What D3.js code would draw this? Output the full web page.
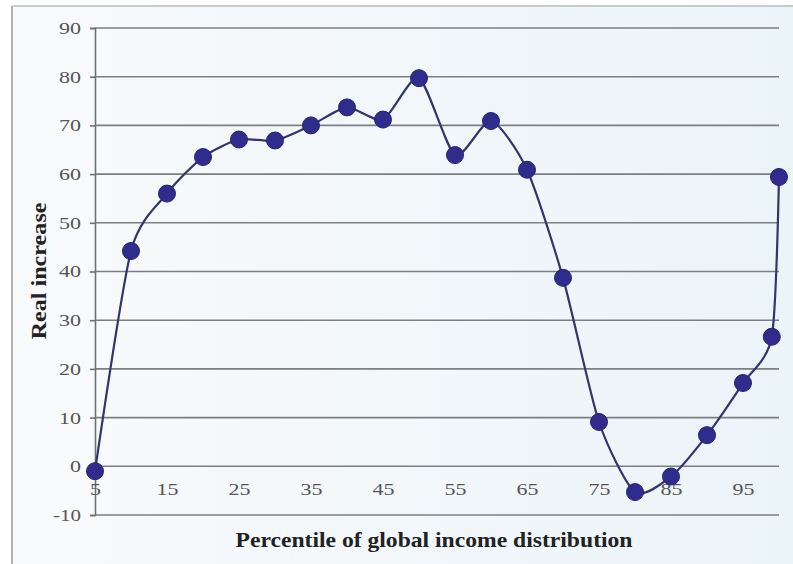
<!DOCTYPE html>
<html>
<head>
<meta charset="utf-8">
<script src="https://cdn.jsdelivr.net/npm/d3@7"></script>
<style>
  body { margin: 0; background: #fff; }
  svg { display: block; }
</style>
</head>
<body>
<div id="chart"></div>
<script>
// Percentiles of the global income distribution and the real increase at each
var percentiles = [5, 10, 15, 20, 25, 30, 35, 40, 45, 50, 55, 60, 65, 70, 75, 80, 85, 90, 95, 99, 100];
var increase = [-1, 44.2, 56, 63.5, 67.1, 66.9, 70, 73.7, 71.2, 79.7, 63.9, 70.9, 60.9, 38.7, 9.1, -5.3, -2.1, 6.4, 17.1, 26.6, 59.4];
var xTicks = [5, 15, 25, 35, 45, 55, 65, 75, 85, 95];
var yTicks = [-10, 0, 10, 20, 30, 40, 50, 60, 70, 80, 90];

var W = 793, H = 564;
var margin = { top: 28, right: 14, bottom: 49, left: 95 },
    width = 779 - margin.left,
    height = 515 - margin.top;

var serif = "'Liberation Serif', 'Times New Roman', serif";

var svg = d3.select("#chart")
    .append("svg")
    .attr("width", W)
    .attr("height", H);

// Background panel with faint blue tint to the right
var defs = svg.append("defs");
var grad = defs.append("linearGradient").attr("id", "bg").attr("x1", "0").attr("x2", "1").attr("y1", "0").attr("y2", "0");
grad.append("stop").attr("offset", "0%").attr("stop-color", "#f9fafb");
grad.append("stop").attr("offset", "100%").attr("stop-color", "#ebf4f9");

svg.append("rect")
    .attr("x", 12).attr("y", 6)
    .attr("width", W - 12).attr("height", H - 6)
    .style("fill", "url(#bg)");

// frame lines (left and top)
svg.append("line").attr("x1", 12).attr("x2", 12).attr("y1", 6).attr("y2", H)
    .style("stroke", "#9a9a9a").style("stroke-width", 1.5);
svg.append("line").attr("x1", 12).attr("x2", W).attr("y1", 6).attr("y2", 6)
    .style("stroke", "#b8bcc0").style("stroke-width", 1.5);

var g = svg.append("g")
    .attr("transform", "translate(" + margin.left + "," + margin.top + ")");

// Scales
var x = d3.scaleLinear().domain([5, 100]).range([0, width]);
var y = d3.scaleLinear().domain([-10, 90]).range([height, 0]);

// Horizontal gridlines
g.append("g")
    .selectAll("line")
    .data(yTicks)
    .enter()
    .append("line")
    .attr("x1", 0)
    .attr("x2", width)
    .attr("y1", function (d) { return y(d); })
    .attr("y2", function (d) { return y(d); })
    .style("stroke", "#7c7f82")
    .style("stroke-width", 1.6);

// the scan is stretched sideways, so widen the digits a bit
function digitWidth(d) {
    var s = String(d);
    return s.replace("-", "").length * 11 + (s.indexOf("-") >= 0 ? 6 : 0);
}

// Y axis
var yAxis = g.append("g")
    .call(d3.axisLeft(y).tickValues(yTicks).tickSize(5).tickPadding(9).tickFormat(String));
yAxis.select(".domain").style("stroke", "#6f7275").style("stroke-width", 1.6);
yAxis.selectAll(".tick line").style("stroke", "#6f7275").style("stroke-width", 1.6);
yAxis.selectAll("text")
    .attr("textLength", digitWidth)
    .attr("lengthAdjust", "spacingAndGlyphs")
    .style("font-family", serif)
    .style("font-size", "17px")
    .style("fill", "#555");

// X tick labels sit just below the zero line
var xAxis = g.append("g")
    .attr("transform", "translate(0," + y(0) + ")")
    .call(d3.axisBottom(x).tickValues(xTicks).tickSize(0).tickPadding(17).tickFormat(String));
xAxis.select(".domain").remove();
xAxis.selectAll("text")
    .attr("textLength", digitWidth)
    .attr("lengthAdjust", "spacingAndGlyphs")
    .style("font-family", serif)
    .style("font-size", "17px")
    .style("fill", "#555");

// Axis titles
svg.append("text")
    .attr("x", 434)
    .attr("y", 547)
    .attr("textLength", 397)
    .attr("lengthAdjust", "spacingAndGlyphs")
    .style("text-anchor", "middle")
    .style("font-family", serif)
    .style("font-weight", "bold")
    .style("font-size", "21px")
    .style("fill", "#222")
    .text("Percentile of global income distribution");

svg.append("text")
    .attr("transform", "translate(46,271) rotate(-90)")
    .attr("textLength", 137)
    .attr("lengthAdjust", "spacingAndGlyphs")
    .style("text-anchor", "middle")
    .style("font-family", serif)
    .style("font-weight", "bold")
    .style("font-size", "21px")
    .style("fill", "#222")
    .text("Real increase");

// Smoothed line
var pts = percentiles.map(function (p, i) { return [p, increase[i]]; });
var line = d3.line()
    .x(function (d) { return x(d[0]); })
    .y(function (d) { return y(d[1]); })
    .curve(d3.curveCardinal.tension(0.3));

g.append("path")
    .datum(pts)
    .attr("d", line)
    .style("fill", "none")
    .style("stroke", "#35356e")
    .style("stroke-width", 2.2);

// Markers
g.append("g")
    .selectAll("circle")
    .data(pts)
    .enter()
    .append("circle")
    .attr("cx", function (d) { return x(d[0]); })
    .attr("cy", function (d) { return y(d[1]); })
    .attr("r", 8.5)
    .style("fill", "#2f2c8e")
    .style("stroke", "#26246f")
    .style("stroke-width", 1);
</script>
</body>
</html>
